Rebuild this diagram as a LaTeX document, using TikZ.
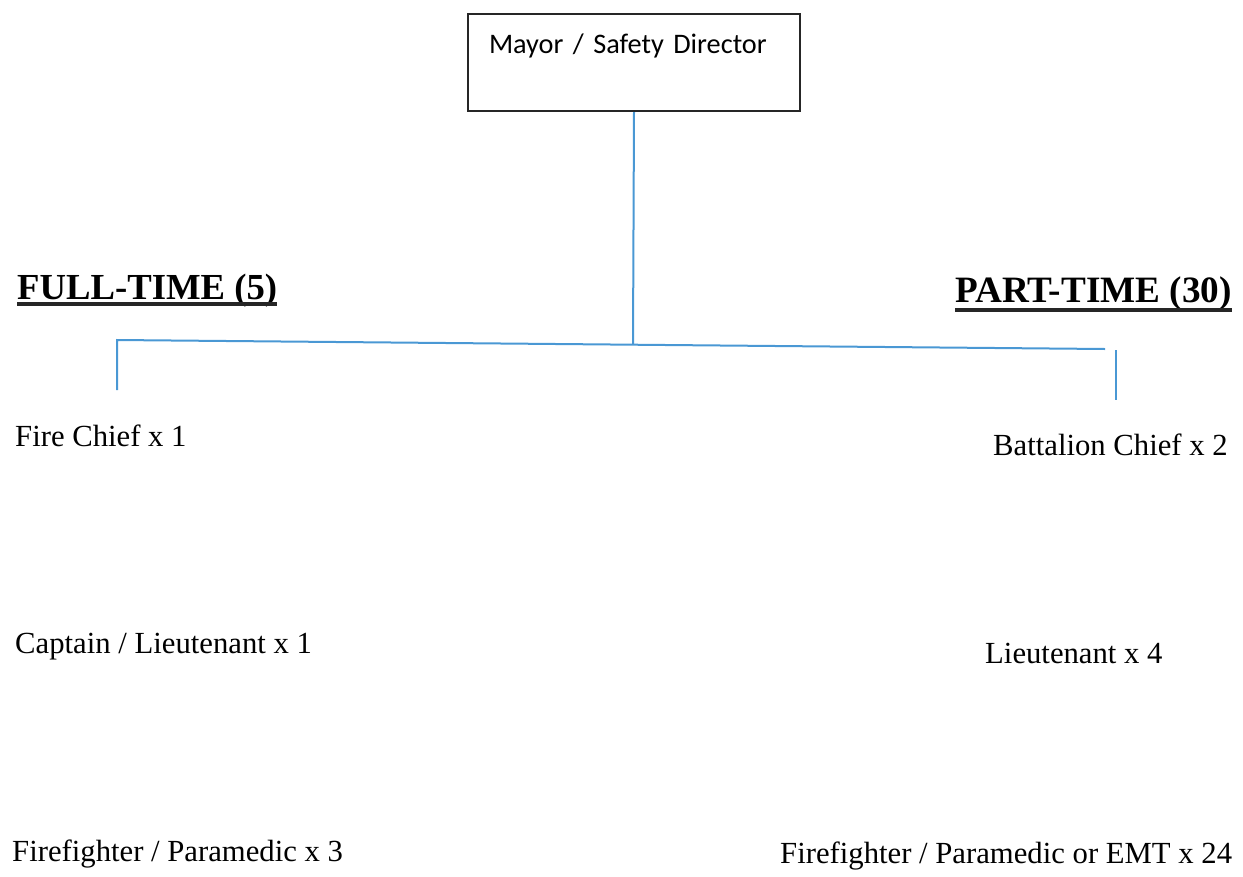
\documentclass[tikz,border=0pt]{standalone}
\usepackage{fontspec}
\setmainfont{Liberation Serif}
\newfontfamily\boxfont{Carlito}
\usepackage{tikz}
\usetikzlibrary{positioning}

\definecolor{orgblue}{RGB}{74,152,212}

\tikzset{
  officebox/.style={draw=black!85, line width=2pt, rectangle, inner xsep=21pt, inner ysep=0pt,
    text width=290pt, align=left, text height=39pt, text depth=58pt,
    font=\boxfont\fontsize{28.3}{34}\selectfont},
  rank/.style={inner sep=0pt, anchor=base west, font=\fontsize{30.7}{36}\selectfont},
  heading/.style={inner sep=0pt, anchor=base west, font=\bfseries\fontsize{#1}{40}\selectfont},
  link/.style={draw=orgblue, line width=2pt},
  uline/.style={draw=black!85, line width=3.5pt}
}

\begin{document}
\begin{tikzpicture}[x=1pt, y=-1pt]

  \useasboundingbox (0,0) rectangle (1243,876);

  % top
  \node[officebox, anchor=north] (mayor) at (634,13) {Mayor / Safety Director}; %

  % headings
  \node[heading=36.7] (full) at (17,299)  {FULL-TIME (5)}; %
  \node[heading=37.2] (part) at (955,302) {PART-TIME (30)}; %
  \draw[uline] ([yshift=-5pt]full.base west) -- ([yshift=-5pt]full.base east) ; %
  \draw[uline] ([yshift=-8pt]part.base west) -- ([yshift=-8pt]part.base east) ; %

  % full-time column
  \node[rank] (chief)   at (15,446)  {Fire Chief x 1}; %
  \node[rank] (captain) at (15,653)  {Captain / Lieutenant x 1}; %
  \node[rank] (ffleft)  at (12,861)  {Firefighter / Paramedic x 3}; %

  % part-time column
  \node[rank] (bchief)  at (993,455) {Battalion Chief x 2}; %
  \node[rank] (lieut)   at (985,663) {Lieutenant x 4}; %
  \node[rank] (ffright) at (780,863) {Firefighter / Paramedic or EMT x 24}; %

  % connectors
  \coordinate (hub)  at (633,344.7);
  \coordinate (hl)   at (117,340);
  \coordinate (hlb)  at (117,390);
  \coordinate (hr)   at (1105,349);
  \coordinate (hrt)  at (1116,350);
  \coordinate (hrb)  at (1116,400);

  \draw[link] (mayor.south) -- (hub) ;
  \draw[link] (hlb) -- (hl) -- (hub) -- (hr) ;
  \draw[link] (hrt) -- (hrb) ;

\end{tikzpicture}
\end{document}
